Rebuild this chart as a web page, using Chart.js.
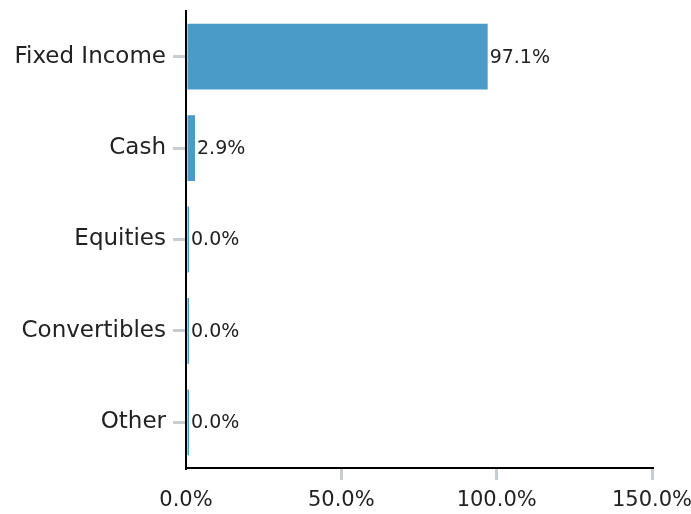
<!DOCTYPE html>
<html lang="en">
<head>
    <meta charset="UTF-8">
    <title>Asset allocation</title>
    <script src="https://cdn.jsdelivr.net/npm/chart.js"></script>
    <style>
        body {
            margin: 0;
            background: #fff;
        }
        #wrap {
            width: 691px;
            height: 514px;
        }
    </style>
</head>
<body>
    <div id="wrap">
        <canvas id="allocChart" width="691" height="514"></canvas>
    </div>
    <script>
        const categories = ['Fixed Income', 'Cash', 'Equities', 'Convertibles', 'Other'];
        const weights = [97.1, 2.9, 0.0, 0.0, 0.0];
        const xTicks = [0, 50, 100, 150];

        const FONT = '"DejaVu Sans", sans-serif';
        const pct = v => Number(v).toFixed(1) + '%';

        // values written just past the end of each bar
        const barLabels = {
            id: 'barLabels',
            afterDatasetsDraw(chart) {
                const ctx = chart.ctx;
                const meta = chart.getDatasetMeta(0);
                ctx.save();
                ctx.font = '19px ' + FONT;
                ctx.fillStyle = '#222';
                ctx.textAlign = 'left';
                ctx.textBaseline = 'middle';
                meta.data.forEach((bar, i) => {
                    ctx.fillText(pct(weights[i]), bar.x + 2, bar.y + 1);
                });
                ctx.restore();
            }
        };

        new Chart(document.getElementById('allocChart'), {
            type: 'bar',
            data: {
                labels: categories,
                datasets: [{
                    data: weights,
                    backgroundColor: '#4a9bc7',
                    borderWidth: 0,
                    minBarLength: 3
                }]
            },
            options: {
                indexAxis: 'y',
                responsive: false,
                animation: false,
                layout: {
                    padding: { top: 11, right: 39, left: 0, bottom: 0 }
                },
                plugins: {
                    legend: { display: false },
                    tooltip: { enabled: false }
                },
                scales: {
                    x: {
                        min: 0,
                        max: 150,
                        afterBuildTicks: scale => {
                            scale.ticks = xTicks.map(v => ({ value: v }));
                        },
                        afterFit: scale => {
                            scale.height = 46;
                            scale.paddingLeft = 0;
                            scale.paddingRight = 0;
                        },
                        grid: {
                            drawOnChartArea: false,
                            tickLength: 12,
                            lineWidth: 3,
                            color: ctx => ctx.index === 0 ? 'rgba(0,0,0,0)' : '#c8cdd2'
                        },
                        border: { color: '#000', width: 2 },
                        ticks: {
                            color: '#222',
                            font: { family: FONT, size: 21 },
                            padding: 8,
                            maxRotation: 0,
                            callback: v => pct(v)
                        }
                    },
                    y: {
                        afterFit: scale => {
                            scale.width = 186;
                            scale.paddingTop = 0;
                            scale.paddingBottom = 0;
                        },
                        grid: {
                            offset: false,
                            drawOnChartArea: false,
                            tickLength: 13,
                            lineWidth: 3,
                            color: '#c8cdd2'
                        },
                        border: { color: '#000', width: 2 },
                        ticks: {
                            color: '#222',
                            font: { family: FONT, size: 23 },
                            padding: 7
                        }
                    }
                }
            },
            plugins: [barLabels]
        });
    </script>
</body>
</html>
